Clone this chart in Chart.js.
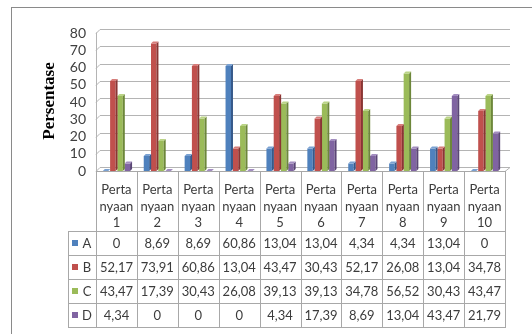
<!DOCTYPE html>
<html>
<head>
<meta charset="utf-8">
<script src="https://cdn.jsdelivr.net/npm/chart.js@4.4.1/dist/chart.umd.min.js"></script>
<style>
  body { margin: 0; background: #fff; }
  #chart { display: block; }
</style>
</head>
<body>
<canvas id="chart" width="532" height="334"></canvas>
<script>
// data
var categories = [
    ['Perta', 'nyaan', '1'], ['Perta', 'nyaan', '2'], ['Perta', 'nyaan', '3'],
    ['Perta', 'nyaan', '4'], ['Perta', 'nyaan', '5'], ['Perta', 'nyaan', '6'],
    ['Perta', 'nyaan', '7'], ['Perta', 'nyaan', '8'], ['Perta', 'nyaan', '9'],
    ['Perta', 'nyaan', '10']
];
var seriesNames = ['A', 'B', 'C', 'D'];
var valuesA = [0, 8.69, 8.69, 60.86, 13.04, 13.04, 4.34, 4.34, 13.04, 0];
var valuesB = [52.17, 73.91, 60.86, 13.04, 43.47, 30.43, 52.17, 26.08, 13.04, 34.78];
var valuesC = [43.47, 17.39, 30.43, 26.08, 39.13, 39.13, 34.78, 56.52, 30.43, 43.47];
var valuesD = [4.34, 0, 0, 0, 4.34, 17.39, 8.69, 13.04, 43.47, 21.79];
var yTicks = [0, 10, 20, 30, 40, 50, 60, 70, 80];
var yTitle = 'Persentase';

var DEPTH = 4;
var FONT = 'Lato';

function fmt(v) {
    return String(v).replace('.', ',');
}

// back wall / left wall grid, 3D look
var wallPlugin = {
    id: 'walls',
    beforeDatasetsDraw: function(chart) {
        var ctx = chart.ctx, y = chart.scales.y, a = chart.chartArea;
        ctx.save();
        ctx.strokeStyle = '#b4b4b4';
        ctx.lineWidth = 1;
        ctx.beginPath();
        yTicks.forEach(function(v) {
            var py = Math.round(y.getPixelForValue(v)) + 0.5;
            ctx.moveTo(a.left, py);
            ctx.lineTo(a.left + DEPTH, py - DEPTH);
            ctx.lineTo(a.right + DEPTH + 1, py - DEPTH);
        });
        ctx.moveTo(a.left + 0.5, a.top - 0.5);
        ctx.lineTo(a.left + 0.5, a.bottom);
        ctx.moveTo(a.right, a.bottom + 0.5);
        ctx.lineTo(a.right + DEPTH + 1, a.bottom - DEPTH + 0.5);
        ctx.stroke();
        ctx.restore();
    }
};

// side and top faces of the bars
var barPlugin = {
    id: 'bars3d',
    afterDatasetsDraw: function(chart) {
        var ctx = chart.ctx, d = 2;
        ctx.save();
        chart.data.datasets.forEach(function(ds, i) {
            chart.getDatasetMeta(i).data.forEach(function(bar) {
                var x0 = bar.x - bar.width / 2, x1 = bar.x + bar.width / 2;
                var top = bar.y, base = bar.base;
                ctx.fillStyle = ds.sideColor;
                ctx.beginPath();
                ctx.moveTo(x1, top);
                ctx.lineTo(x1 + d, top - d);
                ctx.lineTo(x1 + d, base - d);
                ctx.lineTo(x1, base);
                ctx.closePath();
                ctx.fill();
                ctx.fillStyle = ds.topColor;
                ctx.beginPath();
                ctx.moveTo(x0, top);
                ctx.lineTo(x0 + d, top - d);
                ctx.lineTo(x1 + d, top - d);
                ctx.lineTo(x1, top);
                ctx.closePath();
                ctx.fill();
            });
        });
        ctx.restore();
    }
};

// data table under the plot, plus axis title and outer frame
var tablePlugin = {
    id: 'dataTable',
    afterDraw: function(chart) {
        var ctx = chart.ctx, a = chart.chartArea, x = chart.scales.x;
        var n = categories.length, colW = (a.right - a.left) / n;
        var headTop = a.bottom, headBottom = a.bottom + 60, rowH = 24, keyLeft = 68;
        var rows = chart.data.datasets;
        var tableBottom = headBottom + rowH * rows.length;

        ctx.save();
        ctx.strokeStyle = '#a8a8a8';
        ctx.lineWidth = 1;
        ctx.beginPath();
        for (var i = 0; i <= n; i++) {
            var px = Math.round(a.left + i * colW) + 0.5;
            ctx.moveTo(px, headTop);
            ctx.lineTo(px, tableBottom);
        }
        ctx.moveTo(a.left, headTop + 0.5);
        ctx.lineTo(a.right, headTop + 0.5);
        for (var r = 0; r <= rows.length; r++) {
            var py = headBottom + r * rowH + 0.5;
            ctx.moveTo(keyLeft, py);
            ctx.lineTo(a.right + 1, py);
        }
        ctx.moveTo(keyLeft + 0.5, headBottom);
        ctx.lineTo(keyLeft + 0.5, tableBottom);
        ctx.stroke();

        ctx.fillStyle = '#3c3c3c';
        ctx.font = '13px ' + FONT;
        ctx.textAlign = 'center';
        ctx.textBaseline = 'middle';
        categories.forEach(function(lines, i) {
            var cx = x.getPixelForValue(i);
            lines.forEach(function(t, k) {
                ctx.fillText(t, cx, headTop + 19 + k * 16.5);
            });
        });
        rows.forEach(function(ds, r) {
            var cy = headBottom + r * rowH + rowH / 2 + 1;
            ctx.fillStyle = ds.backgroundColor;
            ctx.fillRect(keyLeft + 4, cy - 4, 6, 6);
            ctx.fillStyle = '#3c3c3c';
            ctx.fillText(ds.label, keyLeft + 19, cy);
            ds.data.forEach(function(v, i) {
                ctx.fillText(fmt(v), x.getPixelForValue(i), cy);
            });
        });

        // y axis title
        ctx.save();
        ctx.translate(50, 101);
        ctx.rotate(-Math.PI / 2);
        ctx.fillStyle = '#000';
        ctx.font = 'bold 17px "Liberation Serif"';
        ctx.fillText(yTitle, 0, 0);
        ctx.restore();

        // chart frame
        ctx.strokeStyle = '#8a8a8a';
        ctx.strokeRect(11.5, 7.5, 700, 500);
        ctx.restore();
    }
};

var ctx = document.getElementById('chart').getContext('2d');
var chart = new Chart(ctx, {
    type: 'bar',
    data: {
        labels: categories,
        datasets: [{
            label: seriesNames[0],
            data: valuesA,
            backgroundColor: '#4f81bd',
            sideColor: '#36598a',
            topColor: '#7aa1d2'
        }, {
            label: seriesNames[1],
            data: valuesB,
            backgroundColor: '#c0504d',
            sideColor: '#8a3533',
            topColor: '#d77d7a'
        }, {
            label: seriesNames[2],
            data: valuesC,
            backgroundColor: '#9bbb59',
            sideColor: '#6d873a',
            topColor: '#bad486'
        }, {
            label: seriesNames[3],
            data: valuesD,
            backgroundColor: '#8064a2',
            sideColor: '#5a4576',
            topColor: '#a38dc0'
        }]
    },
    options: {
        responsive: false,
        animation: false,
        categoryPercentage: 0.71,
        barPercentage: 0.75,
        layout: {
            padding: { left: 0, top: 33, right: 27, bottom: 163 }
        },
        plugins: {
            legend: { display: false },
            tooltip: { enabled: false }
        },
        scales: {
            x: {
                display: false
            },
            y: {
                min: yTicks[0],
                max: yTicks[yTicks.length - 1],
                afterFit: function(s) { s.width = 96; },
                grid: { display: false, drawTicks: false },
                border: { display: false },
                ticks: {
                    stepSize: 10,
                    autoSkip: false,
                    padding: 10,
                    color: '#404040',
                    font: { family: FONT, size: 14 }
                }
            }
        }
    },
    plugins: [wallPlugin, barPlugin, tablePlugin]
});
</script>
</body>
</html>
